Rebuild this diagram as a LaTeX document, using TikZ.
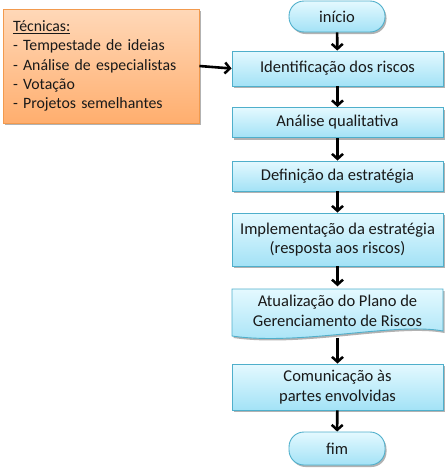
\documentclass[tikz,border=0pt]{standalone}
\usepackage{fontspec}
\setmainfont{Carlito}
\usetikzlibrary{arrows.meta,shadows}
\definecolor{bfill1}{HTML}{E4F9FF}
\definecolor{bfill2}{HTML}{A3E2F6}
\definecolor{bborder}{HTML}{4FAFCB}
\definecolor{ofill1}{HTML}{FFD8B8}
\definecolor{ofill2}{HTML}{FFAE6E}
\definecolor{oborder}{HTML}{F29A4E}
\tikzset{
  base/.style={font=\fontsize{16.5}{19.5}\selectfont, text=black!90, inner sep=0pt, align=center},
  flowbox/.style={base, draw=bborder, line width=0.9pt, top color=bfill1, bottom color=bfill2,
    minimum width=211pt, drop shadow={shadow xshift=1.5pt, shadow yshift=-2pt, opacity=0.3, fill=black}},
  term/.style={flowbox, minimum width=96pt, rounded corners=15pt},
  techbox/.style={base, font=\fontsize{15.8}{19.3}\selectfont, align=left, draw=oborder, line width=0.9pt, top color=ofill1, bottom color=ofill2,
    minimum width=196pt, minimum height=114pt, text width=176pt,
    drop shadow={shadow xshift=1.5pt, shadow yshift=-2pt, opacity=0.3, fill=black}},
  flowarrow/.style={-{Straight Barb[length=5pt,width=11pt,line width=2.5pt]}, line width=2.6pt, black}
}
\begin{document}
\begin{tikzpicture}[x=1pt,y=1pt]
\useasboundingbox (0,0) rectangle (446,-469);
\node[techbox] (tec) at (101,-66) {\underline{Técnicas:}\\- Tempestade de ideias\\- Análise de especialistas\\- Votação\\- Projetos semelhantes};
\node[term, minimum height=31pt] (ini) at (337,-16.5) {início};
\node[flowbox, minimum height=35pt] (ident) at (337.5,-68.5) {Identificação dos riscos};
\node[flowbox, minimum height=30pt] (anal) at (337.5,-122.5) {Análise qualitativa};
\node[flowbox, minimum height=30pt] (defin) at (337.5,-176) {Definição da estratégia};
\node[flowbox, minimum height=53pt] (impl) at (337.5,-239.5) {Implementação da estratégia\\(resposta aos riscos)};
\path[draw=bborder, line width=0.9pt, top color=bfill1, bottom color=bfill2,
    drop shadow={shadow xshift=1.5pt, shadow yshift=-2pt, opacity=0.3, fill=black}]
  (232,-289) -- (443,-289) -- (443,-331) .. controls (395,-322) and (300,-346) .. (232,-336) -- cycle;
\node[base, minimum width=211pt, minimum height=49pt] (atual) at (337.5,-311) {Atualização do Plano de\\Gerenciamento de Riscos};
\node[flowbox, minimum height=46pt] (comm) at (337.5,-387) {Comunicação às\\partes envolvidas};
\node[term, minimum height=33pt] (fim) at (337,-448.5) {fim};
\draw[flowarrow] (ini) -- (ident);
\draw[flowarrow] (ident) -- (anal);
\draw[flowarrow] (anal) -- (defin);
\draw[flowarrow] (defin) -- (impl);
\draw[flowarrow] (impl) -- (atual.north);
\draw[flowarrow] ([yshift=-2pt]atual.south) -- (comm);
\draw[flowarrow] (comm) -- (fim);
\draw[flowarrow] (tec.east) -- (ident.west);
\end{tikzpicture}
\end{document}
